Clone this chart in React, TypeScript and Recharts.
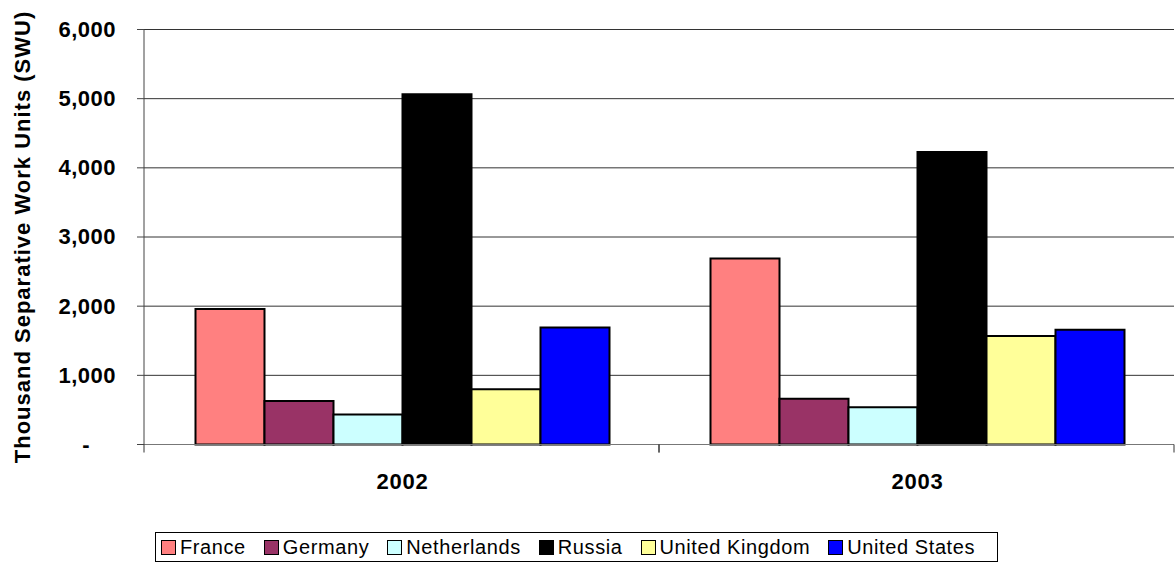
import * as React from "react";
import { Bar, BarChart, CartesianGrid, Label, Legend, XAxis, YAxis } from "recharts";

const years = ["2002", "2003"];
const france = [1960, 2690];
const germany = [630, 660];
const netherlands = [435, 540];
const russia = [5065, 4230];
const unitedKingdom = [800, 1570];
const unitedStates = [1690, 1660];
const yTicks = [0, 1000, 2000, 3000, 4000, 5000, 6000];

const series = [
  { key: "france", name: "France", color: "#FF8080", values: france },
  { key: "germany", name: "Germany", color: "#993366", values: germany },
  { key: "netherlands", name: "Netherlands", color: "#CCFFFF", values: netherlands },
  { key: "russia", name: "Russia", color: "#000000", values: russia },
  { key: "uk", name: "United Kingdom", color: "#FFFF99", values: unitedKingdom },
  { key: "us", name: "United States", color: "#0000FF", values: unitedStates },
];

const data = years.map((year, i) => {
  const row: any = { year };
  series.forEach((s) => (row[s.key] = s.values[i]));
  return row;
});

const FONT = '"Liberation Sans", Arial, sans-serif';
const X_TICK_MARGIN = 29;

/* ---------- ticks ---------- */
function YearTick({ x, y, payload }: any) {
  const axisY = y - X_TICK_MARGIN;
  const half = payload.offset ?? 0;
  return (
    <g>
      <line x1={x - half} x2={x - half} y1={axisY} y2={axisY + 8} stroke="#333" />
      <line x1={x + half} x2={x + half} y1={axisY} y2={axisY + 8} stroke="#333" />
      <text
        x={x + 1}
        y={y}
        dy="0.71em"
        textAnchor="middle"
        fontFamily={FONT}
        fontWeight="bold"
        fontSize={22}
        letterSpacing={0.8}
        fill="#000"
      >
        {payload.value}
      </text>
    </g>
  );
}

function CountTick({ x, y, payload }: any) {
  const v = payload.value;
  return (
    <text
      x={v === 0 ? x - 26 : x}
      y={y}
      dy="0.34em"
      textAnchor="end"
      fontFamily={FONT}
      fontWeight="bold"
      fontSize={22}
      letterSpacing={0.5}
      fill="#000"
    >
      {v === 0 ? "-" : v.toLocaleString("en-US")}
    </text>
  );
}

function AxisTitle({ viewBox }: any) {
  const cx = viewBox.x + 30;
  const cy = viewBox.y + viewBox.height / 2;
  return (
    <text
      x={cx}
      y={cy}
      transform={`rotate(-90 ${cx} ${cy})`}
      textAnchor="middle"
      fontFamily={FONT}
      fontWeight="bold"
      fontSize={22}
      letterSpacing={1}
      fill="#000"
    >
      Thousand Separative Work Units (SWU)
    </text>
  );
}

function LegendBox() {
  return (
    <div
      style={{
        boxSizing: "border-box",
        border: "1px solid #000",
        height: 30,
        display: "flex",
        alignItems: "center",
        paddingLeft: 5,
        fontFamily: FONT,
        background: "#fff",
        whiteSpace: "nowrap",
        overflow: "visible",
      }}
    >
      {series.map((s) => (
        <div key={s.key} style={{ display: "flex", alignItems: "center", marginRight: 18, flexShrink: 0 }}>
          <span
            style={{
              display: "inline-block",
              width: 13,
              height: 13,
              background: s.color,
              border: "1.5px solid #000",
            }}
          />
          <span style={{ marginLeft: 4, fontSize: 20, letterSpacing: 0.6, color: "#000", lineHeight: "20px" }}>
            {s.name}
          </span>
        </div>
      ))}
    </div>
  );
}

export default function App() {
  return (
    <div style={{ width: 1175, height: 565, background: "#fff" }}>
      <style>{"body{margin:0}"}</style>
      <BarChart
        width={1175}
        height={565}
        data={data}
        margin={{ top: 29.5, right: 1, bottom: 30.5, left: 0 }}
        barCategoryGap="10%"
        barGap={0}
      >
        <CartesianGrid vertical={false} stroke="#333" />
        <XAxis
          dataKey="year"
          height={60}
          tickSize={0}
          tickMargin={X_TICK_MARGIN}
          axisLine={{ stroke: "#777" }}
          tick={<YearTick />}
        />
        <YAxis
          width={144}
          domain={[0, 6000]}
          ticks={yTicks}
          tickSize={7}
          tickMargin={21}
          axisLine={{ stroke: "#444" }}
          tickLine={{ stroke: "#444" }}
          tick={<CountTick />}
        >
          <Label content={<AxisTitle />} />
        </YAxis>
        <Legend
          content={<LegendBox />}
          verticalAlign="bottom"
          wrapperStyle={{ left: 155, top: 532, width: 843 }}
        />
        {series.map((s) => (
          <Bar
            key={s.key}
            dataKey={s.key}
            name={s.name}
            fill={s.color}
            stroke="#000"
            strokeWidth={2}
            isAnimationActive={false}
          />
        ))}
      </BarChart>
    </div>
  );
}
